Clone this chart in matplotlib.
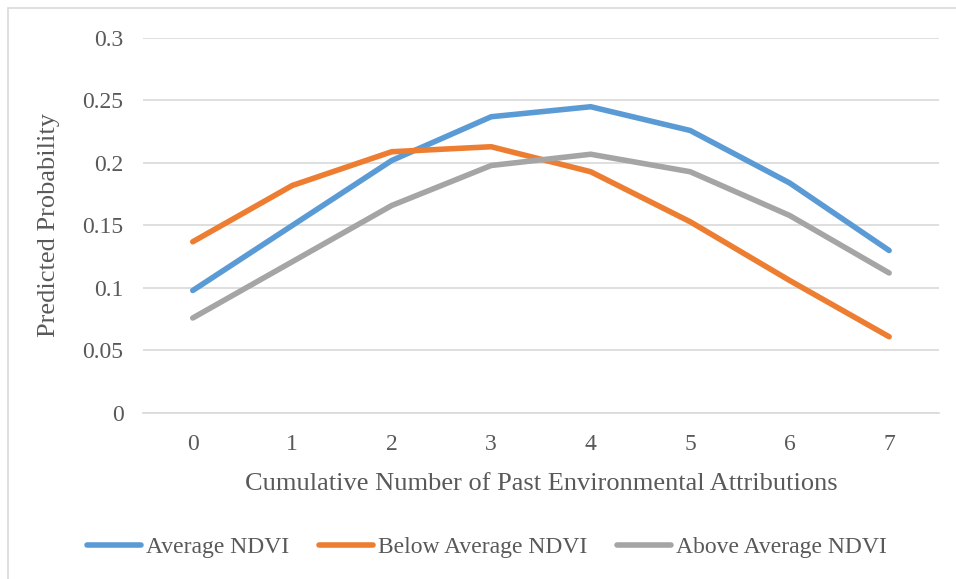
import matplotlib.pyplot as plt
from matplotlib.patches import Rectangle

plt.rcParams['font.family'] = ['Liberation Serif', 'DejaVu Serif']

attributions = [0, 1, 2, 3, 4, 5, 6, 7]
average_ndvi = [0.098, 0.150, 0.202, 0.237, 0.245, 0.226, 0.184, 0.130]
below_average_ndvi = [0.137, 0.182, 0.209, 0.213, 0.193, 0.153, 0.106, 0.061]
above_average_ndvi = [0.076, 0.121, 0.166, 0.198, 0.207, 0.193, 0.158, 0.112]
y_ticks = [0, 0.05, 0.1, 0.15, 0.2, 0.25, 0.3]
y_tick_labels = ['0', '0.05', '0.1', '0.15', '0.2', '0.25', '0.3']

text_color = '#595959'

fig = plt.figure(figsize=(9.56, 5.79), dpi=100)
ax = fig.add_axes([0.1496, 0.2867, 0.8325, 0.6477])

for vals, col, lab in [(average_ndvi, '#5B9BD5', 'Average NDVI'),
                       (below_average_ndvi, '#ED7D31', 'Below Average NDVI'),
                       (above_average_ndvi, '#A5A5A5', 'Above Average NDVI')]:
    ax.plot(attributions, vals, color=col, lw=4, label=lab,
            solid_capstyle='round', solid_joinstyle='round')

ax.set_xlim(-0.5, 7.5)
ax.set_ylim(0, 0.3)
ax.set_xticks(attributions)
ax.set_xticklabels([str(a) for a in attributions])
ax.set_yticks(y_ticks)
ax.set_yticklabels(y_tick_labels)
ax.grid(axis='y', color='#D9D9D9', lw=1.2)
ax.set_axisbelow(True)
for s in ax.spines.values():
    s.set_visible(False)
ax.spines['bottom'].set_visible(True)
ax.spines['bottom'].set_color('#D9D9D9')
ax.spines['bottom'].set_linewidth(1.2)
ax.tick_params(length=0, labelsize=17, colors=text_color)
ax.tick_params(axis='x', pad=15)
ax.tick_params(axis='y', pad=14)

ax.set_xlabel('Cumulative Number of Past Environmental Attributions', fontsize=19,
              color=text_color, labelpad=13)
ax.set_ylabel('Predicted Probability', fontsize=19, color=text_color, labelpad=16)

fig.legend(loc='center', bbox_to_anchor=(0.509, 0.054), ncol=3, frameon=False,
           fontsize=17, labelcolor=text_color, handlelength=2.3, handletextpad=0.2,
           columnspacing=1.25)

fig.patches.append(Rectangle((8 / 956, -0.01), 1.0, 1 - 8 / 579 + 0.01,
                             transform=fig.transFigure, fill=False,
                             edgecolor='#D9D9D9', lw=1.2))

fig.savefig('out.png', dpi=100)
